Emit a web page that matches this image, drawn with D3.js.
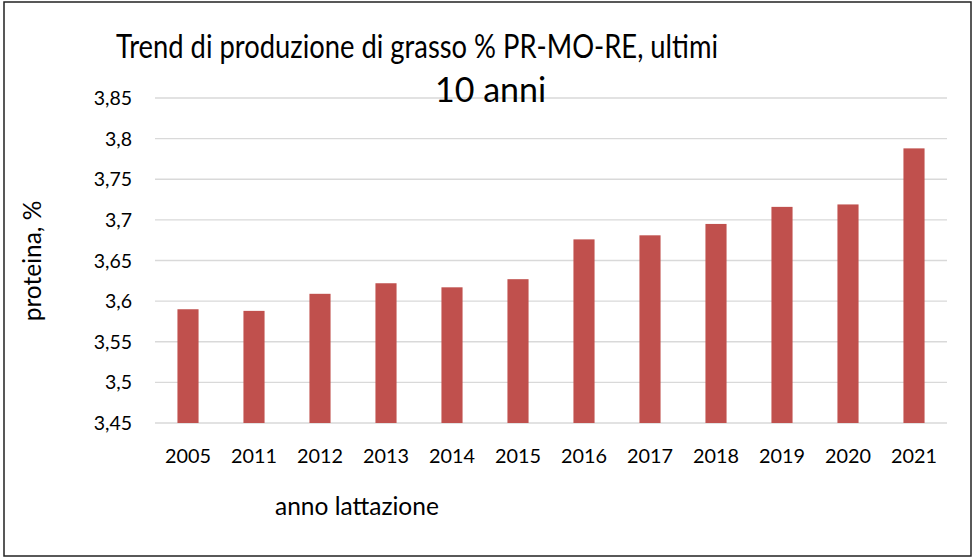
<!DOCTYPE html>
<html>
<head>
<meta charset="utf-8">
<script src="https://cdn.jsdelivr.net/npm/d3@7"></script>
<style>
  body { margin: 0; background: #fff; }
  svg { display: block; font-family: Lato, "Open Sans", sans-serif; }
</style>
</head>
<body>
<svg id="chart"></svg>
<script>
const years = ["2005", "2011", "2012", "2013", "2014", "2015", "2016", "2017", "2018", "2019", "2020", "2021"]
const protein = [3.59, 3.588, 3.609, 3.622, 3.617, 3.627, 3.676, 3.681, 3.695, 3.716, 3.719, 3.788]
const yTicks = [3.45, 3.5, 3.55, 3.6, 3.65, 3.7, 3.75, 3.8, 3.85]

const titleLines = ["Trend di produzione di grasso % PR-MO-RE, ultimi", "10 anni"]
const xTitle = "anno lattazione"
const yTitle = "proteina, %"

const width = 973
const height = 558
const plot = { left: 155, right: 947, top: 98, bottom: 423 }

const svg = d3.select("#chart").attr("width", width).attr("height", height)

svg.append("rect")
  .attr("x", 4).attr("y", 2)
  .attr("width", 967).attr("height", 554)
  .attr("fill", "#fff")
  .attr("stroke", "#222")
  .attr("stroke-width", 1.5)

const x = d3.scaleBand().domain(years).range([plot.left, plot.right])
const y = d3.scaleLinear().domain([3.45, 3.85]).range([plot.bottom, plot.top])

const fmt = (d) => String(+d.toFixed(2)).replace(".", ",")

// grid lines
svg.append("g")
  .selectAll("line")
  .data(yTicks)
  .join("line")
  .attr("x1", plot.left).attr("x2", plot.right)
  .attr("y1", (d) => y(d)).attr("y2", (d) => y(d))
  .attr("stroke", "#d9d9d9")
  .attr("stroke-width", 1.3)

// y labels
svg.append("g")
  .selectAll("text")
  .data(yTicks)
  .join("text")
  .attr("x", 132)
  .attr("y", (d) => y(d))
  .attr("dy", "0.36em")
  .attr("text-anchor", "end")
  .attr("font-size", 19.5)
  .attr("fill", "#000")
  .text(fmt)

// bars
const barW = x.bandwidth() * 0.32
svg.append("g")
  .selectAll("rect")
  .data(protein)
  .join("rect")
  .attr("x", (d, i) => x(years[i]) + (x.bandwidth() - barW) / 2)
  .attr("y", (d) => y(d))
  .attr("width", barW)
  .attr("height", (d) => y(3.45) - y(d))
  .attr("fill", "#c0504d")

// x labels
svg.append("g")
  .selectAll("text")
  .data(years)
  .join("text")
  .attr("x", (d) => x(d) + x.bandwidth() / 2)
  .attr("y", 463)
  .attr("text-anchor", "middle")
  .attr("font-size", 19.5)
  .attr("textLength", 46)
  .attr("lengthAdjust", "spacingAndGlyphs")
  .attr("fill", "#000")
  .text((d) => d)

// axis titles
svg.append("text")
  .attr("x", 275).attr("y", 515)
  .attr("font-size", 24.5)
  .attr("fill", "#000")
  .text(xTitle)

svg.append("text")
  .attr("transform", "translate(41,261) rotate(-90)")
  .attr("text-anchor", "middle")
  .attr("font-size", 24.5)
  .attr("fill", "#000")
  .text(yTitle)

// title
svg.append("text")
  .attr("x", 116).attr("y", 58)
  .attr("font-size", 33)
  .attr("textLength", 602)
  .attr("lengthAdjust", "spacingAndGlyphs")
  .attr("fill", "#000")
  .text(titleLines[0])

svg.append("text")
  .attr("x", 435).attr("y", 102)
  .attr("font-size", 34)
  .attr("fill", "#000")
  .text(titleLines[1])
</script>
</body>
</html>
